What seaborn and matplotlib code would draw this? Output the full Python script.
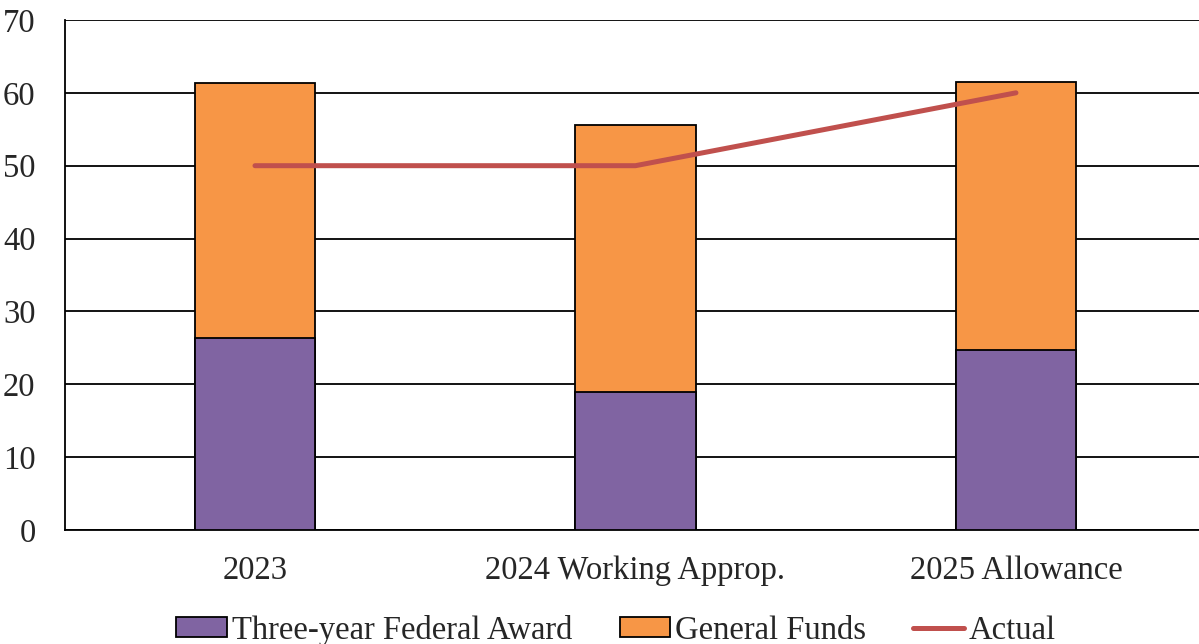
import matplotlib
matplotlib.use("Agg")
import matplotlib.pyplot as plt
import seaborn as sns
import pandas as pd
from matplotlib.patches import Patch
from matplotlib.lines import Line2D

# Données
categories = ["2023", "2024 Working Approp.", "2025 Allowance"]
federal_award = [26.3, 18.9, 24.7]
general_funds = [35.0, 36.7, 36.8]
actual = [50, 50, 60]

totals = [a + b for a, b in zip(federal_award, general_funds)]
df = pd.DataFrame({"cat": categories, "federal": federal_award,
                   "total": totals, "actual": actual})

purple = "#8064A2"
orange = "#F79646"
red = "#C0504D"

sns.set_style("white")
plt.rcParams["font.family"] = ["Liberation Serif", "DejaVu Serif"]

fig = plt.figure(figsize=(11.99, 6.44), dpi=100)
ax = fig.add_axes([0.054, 0.177, 0.952, 0.792])

# Barres empilées : total (orange) puis fédéral (violet) par-dessus
sns.barplot(data=df, x="cat", y="total", color=orange, width=0.316,
            edgecolor="black", linewidth=1.3, saturation=1, ax=ax, zorder=2)
sns.barplot(data=df, x="cat", y="federal", color=purple, width=0.316,
            edgecolor="black", linewidth=1.3, saturation=1, ax=ax, zorder=3)
sns.lineplot(data=df, x="cat", y="actual", color=red, linewidth=3.6,
             sort=False, ax=ax, zorder=4, solid_capstyle="round")

ax.set_ylim(0, 70)
ax.set_xlim(-0.5, 2.5)
ax.set_yticks(range(0, 71, 10))
ax.yaxis.grid(True, color="black", linewidth=1.3, zorder=0)
ax.set_axisbelow(True)
ax.set_xlabel("")
ax.set_ylabel("")
for s in ["top", "right"]:
    ax.spines[s].set_visible(False)
ax.spines["left"].set_color("black")
ax.spines["left"].set_linewidth(1.3)
ax.spines["bottom"].set_color("black")
ax.spines["bottom"].set_linewidth(1.3)
ax.tick_params(axis="y", length=0, pad=21, labelsize=23.5)
ax.tick_params(axis="x", length=0, pad=18, labelsize=23.5)

handles = [
    Patch(facecolor=purple, edgecolor="black", linewidth=1.3),
    Patch(facecolor=orange, edgecolor="black", linewidth=1.3),
    Line2D([0], [0], color=red, linewidth=3.6),
]
labels = ["Three-year Federal Award", "General Funds", "Actual"]
fig.legend(handles, labels, loc="lower center", bbox_to_anchor=(0.514, -0.048),
           ncol=3, frameon=False, fontsize=23.5, handlelength=1.55,
           handleheight=0.6, handletextpad=0.15, columnspacing=1.45)

fig.savefig("out.png", dpi=100)
